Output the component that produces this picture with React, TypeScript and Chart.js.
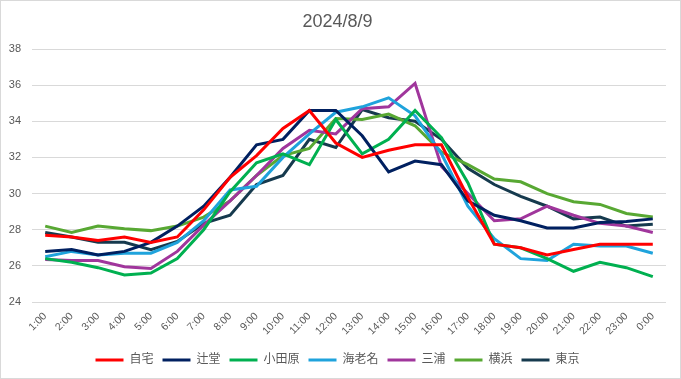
import React, { useEffect, useRef } from "react";
import { Chart, registerables } from "chart.js";

Chart.register(...registerables);

const TITLE = "2024/8/9";

const hours = [
  "1:00", "2:00", "3:00", "4:00", "5:00", "6:00", "7:00", "8:00", "9:00", "10:00", "11:00", "12:00",
  "13:00", "14:00", "15:00", "16:00", "17:00", "18:00", "19:00", "20:00", "21:00", "22:00", "23:00", "0:00",
];

const seriesNames = ["自宅", "辻堂", "小田原", "海老名", "三浦", "横浜", "東京"];

const jitaku = [27.7, 27.6, 27.4, 27.6, 27.3, 27.6, 29.1, 30.9, 32.1, 33.6, 34.6, 32.8, 32.0, 32.4, 32.7, 32.7, 29.8, 27.2, 27.0, 26.6, 26.9, 27.2, 27.2, 27.2];
const tsujido = [26.8, 26.9, 26.6, 26.8, 27.3, 28.2, 29.3, 30.9, 32.7, 33.0, 34.6, 34.6, 33.2, 31.2, 31.8, 31.6, 29.6, 28.8, 28.5, 28.1, 28.1, 28.4, 28.45, 28.6];
const odawara = [26.4, 26.2, 25.9, 25.5, 25.6, 26.4, 28.0, 30.1, 31.7, 32.2, 31.6, 34.1, 32.2, 33.0, 34.6, 33.1, 30.6, 27.2, 27.0, 26.4, 25.7, 26.2, 25.9, 25.4];
const ebina = [26.5, 26.8, 26.6, 26.7, 26.7, 27.3, 28.5, 30.2, 30.4, 32.0, 33.3, 34.5, 34.8, 35.3, 34.3, 32.2, 29.3, 27.5, 26.4, 26.3, 27.2, 27.1, 27.1, 26.7];
const miura = [26.35, 26.3, 26.3, 25.95, 25.85, 26.8, 28.25, 29.6, 31.0, 32.5, 33.5, 33.3, 34.7, 34.8, 36.1, 31.5, 30.0, 28.5, 28.6, 29.3, 28.8, 28.35, 28.2, 27.85];
const yokohama = [28.2, 27.85, 28.2, 28.05, 27.95, 28.2, 28.7, 29.6, 31.0, 32.1, 32.5, 34.15, 34.1, 34.4, 33.75, 32.3, 31.6, 30.8, 30.65, 30.0, 29.55, 29.4, 28.9, 28.7];
const tokyo = [27.85, 27.6, 27.3, 27.3, 26.9, 27.35, 28.35, 28.8, 30.5, 31.0, 33.0, 32.55, 34.65, 34.2, 34.0, 33.0, 31.4, 30.5, 29.85, 29.3, 28.6, 28.7, 28.2, 28.3];

const seriesValues = [jitaku, tsujido, odawara, ebina, miura, yokohama, tokyo];
const seriesColors = ["#ff0000", "#002060", "#00b050", "#1fa3dc", "#a0369c", "#58a833", "#163a4e"];

const Y_MIN = 24;
const Y_MAX = 38;
const Y_STEP = 2;

const TEXT = "#595959";
const GRID = "#d9d9d9";
const FONT = "'Liberation Sans', Arial, 'Noto Sans CJK JP', sans-serif";

export default function App() {
  const ref = useRef<HTMLCanvasElement | null>(null);

  useEffect(() => {
    if (!ref.current) return;
    const chart = new Chart(ref.current, {
      type: "line",
      data: {
        labels: hours,
        datasets: seriesNames.map((name, i) => ({
          label: name,
          data: seriesValues[i],
          borderColor: seriesColors[i],
          backgroundColor: seriesColors[i],
          borderWidth: 3,
          pointRadius: 0,
          pointHoverRadius: 0,
          tension: 0,
          fill: false,
        })),
      },
      options: {
        animation: false,
        responsive: false,
        maintainAspectRatio: false,
        devicePixelRatio: 1,
        layout: { padding: { top: 0, left: 9, right: 15, bottom: 3 } },
        plugins: {
          tooltip: { enabled: false },
          title: {
            display: true,
            text: TITLE,
            color: TEXT,
            font: { family: FONT, size: 18, weight: "normal" },
            padding: { top: 11, bottom: 16.4 },
          },
          legend: {
            position: "bottom",
            labels: {
              boxWidth: 28,
              boxHeight: 3,
              padding: 9,
              color: TEXT,
              font: { family: "'Liberation Sans', 'Noto Sans CJK JP', sans-serif", size: 12 },
              generateLabels: (c: any) =>
                c.data.datasets.map((ds: any, i: number) => ({
                  text: ds.label,
                  fillStyle: ds.borderColor,
                  strokeStyle: ds.borderColor,
                  lineWidth: 0,
                  hidden: false,
                  datasetIndex: i,
                  fontColor: TEXT,
                })),
            },
          },
        },
        scales: {
          x: {
            offset: true,
            grid: { display: false, drawTicks: false },
            border: { display: false },
            ticks: {
              color: TEXT,
              font: { family: FONT, size: 10.5 },
              maxRotation: 45,
              minRotation: 45,
              autoSkip: false,
              padding: 8,
            },
            afterFit: (s: any) => {
              s.height = 43;
            },
          },
          y: {
            min: Y_MIN,
            max: Y_MAX,
            grid: { color: GRID, lineWidth: 1, drawTicks: false },
            border: { display: false },
            ticks: {
              stepSize: Y_STEP,
              color: TEXT,
              font: { family: FONT, size: 11 },
              padding: 11,
            },
            afterFit: (s: any) => {
              s.width = 23;
            },
          },
        },
      },
    });
    return () => chart.destroy();
  }, []);

  return (
    <div style={{ position: "fixed", left: 0, top: 0, width: 681, height: 379, background: "#fff" }}>
      <canvas ref={ref} width={681} height={379} style={{ display: "block", width: 681, height: 379 }} />
      <div
        style={{
          position: "absolute",
          left: 0,
          top: 0,
          width: 681,
          height: 379,
          boxSizing: "border-box",
          border: "1px solid #d9d9d9",
          pointerEvents: "none",
        }}
      />
    </div>
  );
}
